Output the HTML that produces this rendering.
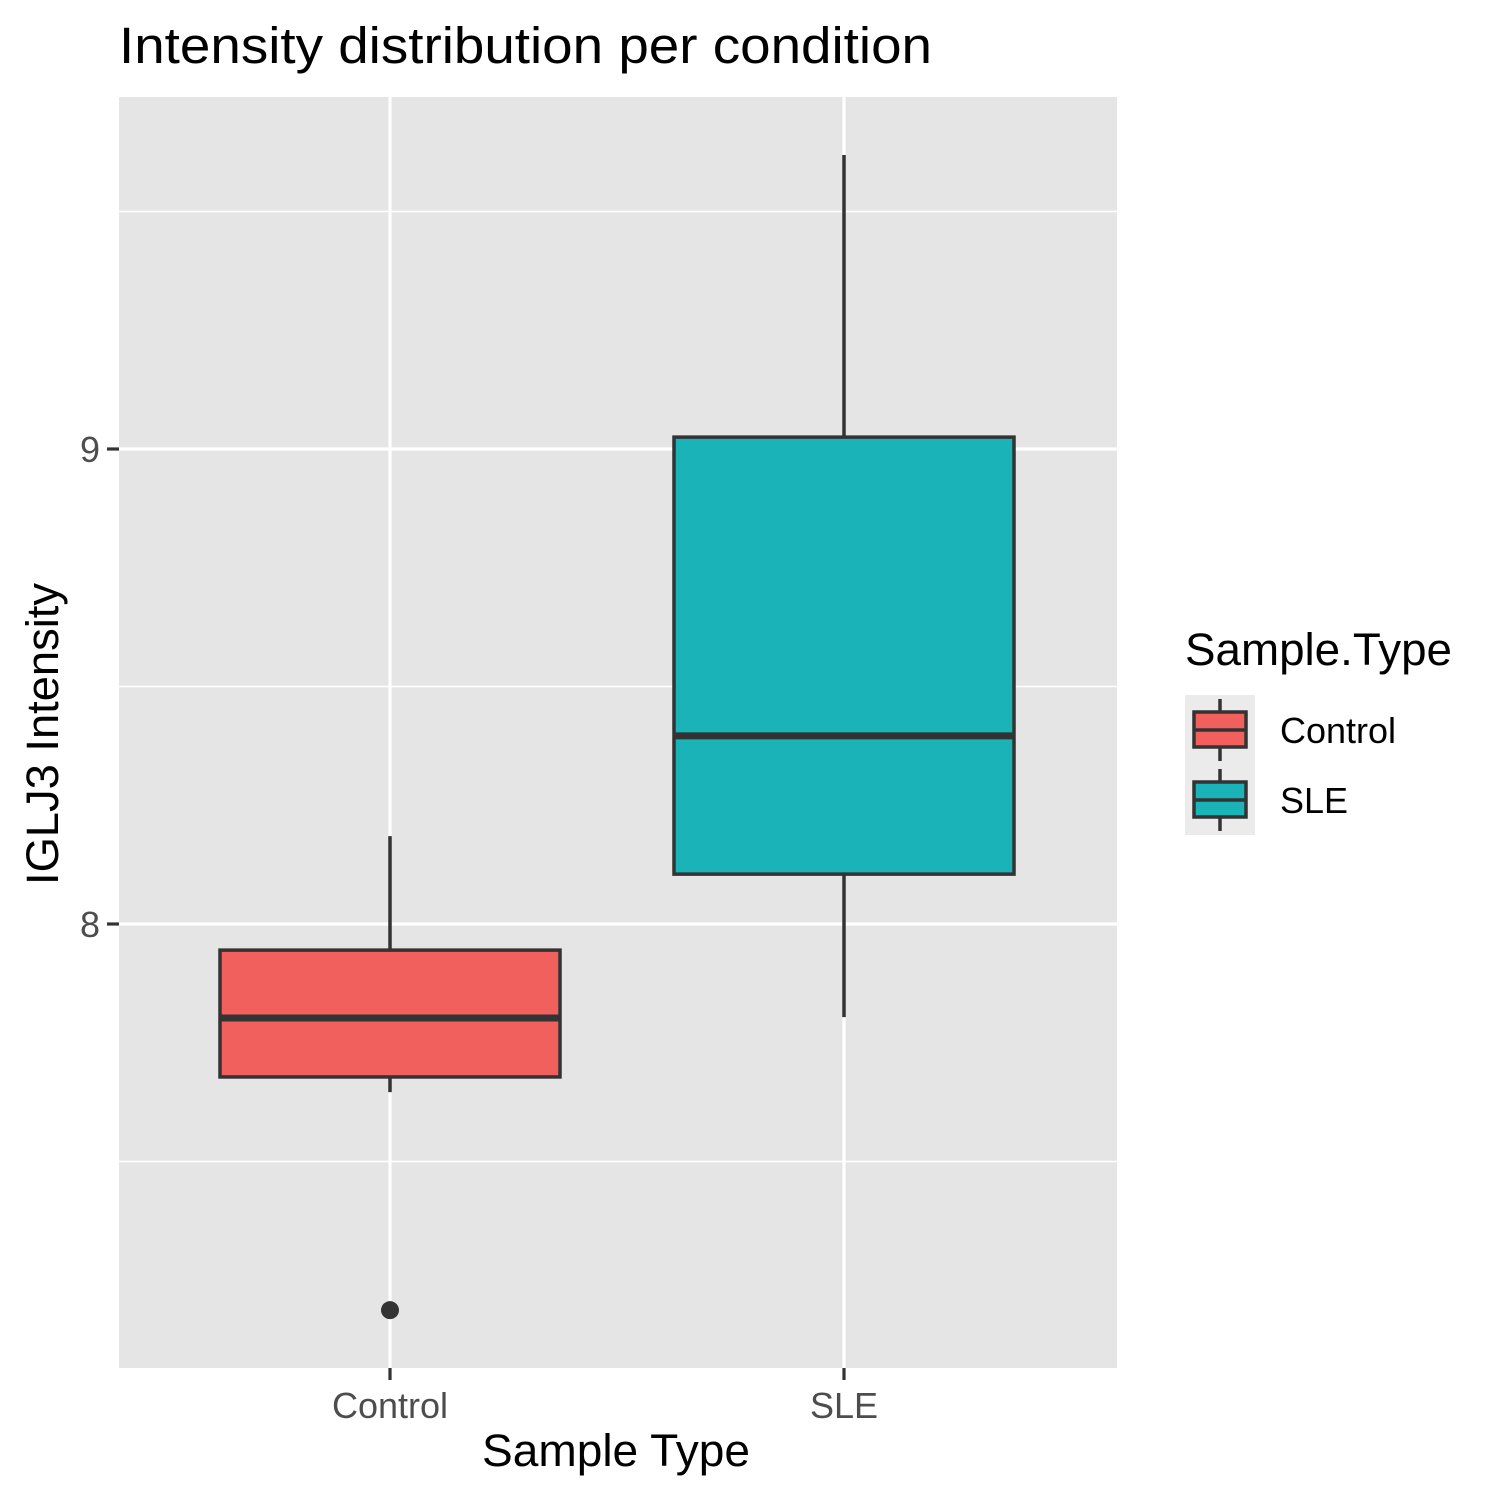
<!DOCTYPE html>
<html><head><meta charset="utf-8">
<style>
body{margin:0;background:#fff;}
svg{display:block;font-family:"Liberation Sans",Arial,sans-serif;}
</style></head>
<body>
<svg id="chart" width="1500" height="1500" viewBox="0 0 1500 1500">
<rect x="0" y="0" width="1500" height="1500" fill="#fff"/>
<text x="119" y="63" font-size="51" textLength="813" lengthAdjust="spacingAndGlyphs" fill="#000">Intensity distribution per condition</text>
<rect x="119" y="97" width="998" height="1271" fill="#e5e5e5"/>
<g id="grid"></g>
<g id="boxes"></g>
<g id="axes"></g>
<text x="482" y="1466" font-size="45" textLength="268" lengthAdjust="spacingAndGlyphs" fill="#000">Sample Type</text>
<text transform="translate(58,885) rotate(-90)" font-size="45" textLength="302" lengthAdjust="spacingAndGlyphs" fill="#000">IGLJ3 Intensity</text>
<g>
<text x="1185" y="665" font-size="45" textLength="267" lengthAdjust="spacingAndGlyphs" fill="#000">Sample.Type</text>
<g>
<rect x="1185" y="695" width="70" height="70" fill="#ebebeb"/>
<line x1="1220" y1="699" x2="1220" y2="761" stroke="#333" stroke-width="3.5"/>
<rect x="1194" y="712" width="52" height="35" fill="#F1605C" stroke="#333" stroke-width="3.5"/>
<line x1="1194" y1="730" x2="1246" y2="730" stroke="#333" stroke-width="3.5"/>
<text x="1280" y="743" font-size="36" textLength="116" lengthAdjust="spacingAndGlyphs" fill="#000">Control</text>
</g>
<g>
<rect x="1185" y="765" width="70" height="70" fill="#ebebeb"/>
<line x1="1220" y1="769" x2="1220" y2="831" stroke="#333" stroke-width="3.5"/>
<rect x="1194" y="782" width="52" height="35" fill="#1AB3B7" stroke="#333" stroke-width="3.5"/>
<line x1="1194" y1="800" x2="1246" y2="800" stroke="#333" stroke-width="3.5"/>
<text x="1280" y="813" font-size="36" fill="#000">SLE</text>
</g>
</g>
</svg>
<script>
const categories=["Control","SLE"];
const fills=["#F1605C","#1AB3B7"];
const lowerWhisker=[7.646,7.804];
const q1=[7.678,8.105];
const median=[7.802,8.396];
const q3=[7.945,9.025];
const upperWhisker=[8.185,9.619];
const outliers=[[7.187],[]];
const majorTicks=[8,9];
const minorTicks=[7.5,8.5,9.5];

const NS="http://www.w3.org/2000/svg";
function yScale(v){return 449-(v-9)*475;}
function xScale(i){return 390+i*454;}
const halfW=170;
function mk(tag,attrs,parent){const e=document.createElementNS(NS,tag);for(const k in attrs)e.setAttribute(k,attrs[k]);parent.appendChild(e);return e;}
const grid=document.getElementById('grid'),boxes=document.getElementById('boxes'),axes=document.getElementById('axes');
minorTicks.forEach(t=>{const l=mk('line',{x1:119,x2:1117,y1:yScale(t),y2:yScale(t),stroke:'#fff','stroke-width':1.6},grid);

});
majorTicks.forEach(t=>{const l=mk('line',{x1:119,x2:1117,y1:yScale(t),y2:yScale(t),stroke:'#fff','stroke-width':3.2},grid);


const tk=mk('line',{x1:107,x2:119,y1:yScale(t),y2:yScale(t),stroke:'#333','stroke-width':3.2},axes);


const tx=mk('text',{x:100,y:yScale(t)+13,'font-size':36,'text-anchor':'end',fill:'#4d4d4d'},axes);
tx.textContent=String(t);

});
categories.forEach((c,i)=>{const x=xScale(i);
const v=mk('line',{x1:x,x2:x,y1:97,y2:1368,stroke:'#fff','stroke-width':3.2},grid);


const tk=mk('line',{x1:x,x2:x,y1:1368,y2:1380,stroke:'#333','stroke-width':3.2},axes);


const tx=mk('text',{x:x,y:1418,'font-size':36,'text-anchor':'middle',fill:'#4d4d4d'},axes);
tx.textContent=c;


const g=mk('g',{},boxes);


mk('line',{x1:x,x2:x,y1:yScale(upperWhisker[i]),y2:yScale(q3[i]),stroke:'#333','stroke-width':3.5},g);
mk('line',{x1:x,x2:x,y1:yScale(q1[i]),y2:yScale(lowerWhisker[i]),stroke:'#333','stroke-width':3.5},g);
mk('rect',{x:x-halfW,y:yScale(q3[i]),width:2*halfW,height:yScale(q1[i])-yScale(q3[i]),fill:fills[i],stroke:'#333','stroke-width':3.5},g);
mk('line',{x1:x-halfW,x2:x+halfW,y1:yScale(median[i]),y2:yScale(median[i]),stroke:'#333','stroke-width':7},g);
outliers[i].forEach(o=>{const p=mk('circle',{cx:x,cy:yScale(o),r:9,fill:'#333'},g);

});
});
</script>
</body></html>
